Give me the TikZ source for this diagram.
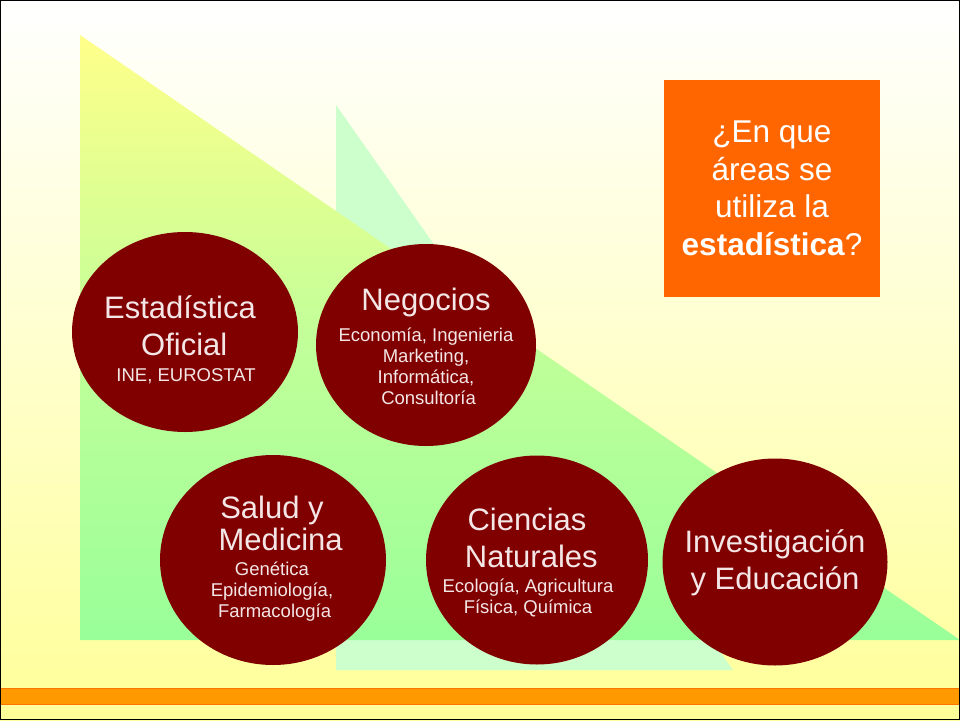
\documentclass[tikz,border=0pt]{standalone}
\usepackage{fontspec}
\setmainfont{Liberation Sans}
\begin{document}
\begin{tikzpicture}[x=1pt,y=-1pt,
  circ/.style={ellipse, fill=cdark, text=ctext, align=center, inner sep=0pt},
  big/.style={font=\fontsize{31}{37}\selectfont},
  sm/.style={font=\fontsize{18.5}{21}\selectfont}]
\usetikzlibrary{shapes.geometric}
\definecolor{cdark}{HTML}{800000}
\definecolor{ctext}{HTML}{F4E6E6}
\definecolor{paleg}{HTML}{CCFFCC}
\definecolor{lgreen}{HTML}{99FF99}
\definecolor{lyel}{HTML}{FFFF99}
\useasboundingbox (0,0) rectangle (960,720);
\shade[top color=white, bottom color=lyel] (0,0) rectangle (960,720);
\fill[paleg] (336,105) -- (336,670) -- (733,670) -- cycle;
\shade[top color=lyel!90!yellow, bottom color=lgreen, middle color=lgreen!60!lyel] (80,35) -- (80,640) -- (960,640) -- cycle;
\fill[orange!80!yellow, draw=orange!90!red] (0,688) rectangle (960,704);
\draw[black] (0.5,0.5) rectangle (959.5,719.5);
\node[fill={rgb,255:red,255;green,102;blue,0}, minimum width=216, minimum height=217, text=white, align=center,
  font=\fontsize{31.5}{37.5}\selectfont] (q) at (772,188.5) {¿En que\\ áreas se\\ utiliza la\\ \textbf{estadística}?};
\node[circ, minimum width=226, minimum height=200] (a) at (185,332) {};
\node[big, text=ctext, align=center] (at) at (180,326) {Estadística\\ \ Oficial};
\node[sm, text=ctext] (as) at (186,376) {INE, EUROSTAT};
\node[circ, minimum width=220, minimum height=202] (b) at (426,345) {};
\node[big, text=ctext] (bt) at (426,302) {Negocios};
\node[sm, text=ctext, align=center] (bs) at (426,366) {Economía, Ingenieria\\ Marketing,\\ Informática,\\ \ Consultoría};
\node[circ, minimum width=226, minimum height=210] (c) at (273,560) {};
\node[text=ctext, align=center, font=\fontsize{31}{32}\selectfont] (ct) at (272,523) {Salud y\\ \ \ Medicina};
\node[sm, text=ctext, align=center] (cs) at (272,592) {Genética\\ Epidemiología,\\ \ Farmacología};
\node[circ, minimum width=222, minimum height=209] (d) at (537,560) {};
\node[big, text=ctext, align=center] (dt) at (527,538) {Ciencias\\ \ Naturales};
\node[sm, text=ctext, align=center] (ds) at (528,598) {Ecología, Agricultura\\ Física, Química};
\node[circ, minimum width=225, minimum height=207] (e) at (775,562) {};
\node[big, text=ctext, align=center] (et) at (775,563) {Investigación\\ y Educación};
\end{tikzpicture}
\end{document}
